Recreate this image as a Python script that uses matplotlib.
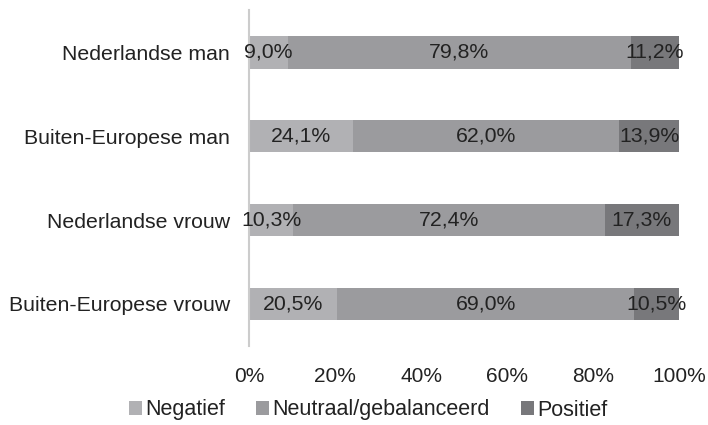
import matplotlib.pyplot as plt
import numpy as np

plt.rcParams['font.family'] = ['Liberation Sans', 'DejaVu Sans']

groups = ['Nederlandse man', 'Buiten-Europese man', 'Nederlandse vrouw', 'Buiten-Europese vrouw']
series = ['Negatief', 'Neutraal/gebalanceerd', 'Positief']
negatief = [9.0, 24.1, 10.3, 20.5]
neutraal = [79.8, 62.0, 72.4, 69.0]
positief = [11.2, 13.9, 17.3, 10.5]
colors = ['#b1b1b4', '#9b9b9e', '#78787b']

fig = plt.figure(figsize=(7.08, 4.25), dpi=100)
ax = fig.add_axes([0.352, 0.186, 0.607, 0.790])

y = np.arange(len(groups))
left = np.zeros(len(groups))
for name, vals, col in zip(series, [negatief, neutraal, positief], colors):
    vals = np.array(vals)
    ax.barh(y, vals, left=left, height=0.39, color=col, label=name)
    for yi, l, v in zip(y, left, vals):
        ax.text(l + v / 2, yi, f'{v:.1f}%'.replace('.', ','), ha='center', va='center',
                fontsize=15.3, color='#222222')
    left += vals

ax.set_xlim(0, 100)
ax.set_ylim(3.5, -0.5)
ax.set_yticks(y)
ax.set_yticklabels(groups, fontsize=15.3, color='#222222')
ax.set_xticks([0, 20, 40, 60, 80, 100])
ax.set_xticklabels(['0%', '20%', '40%', '60%', '80%', '100%'], fontsize=15, color='#222222')
ax.tick_params(length=0)
ax.tick_params(axis='x', pad=15)
ax.tick_params(axis='y', pad=14)
for s in ['top', 'right', 'bottom']:
    ax.spines[s].set_visible(False)
ax.spines['left'].set_color('#cccccc')
ax.spines['left'].set_linewidth(1.5)

fig.legend(loc='center', bbox_to_anchor=(0.52, 1 - 410 / 425), ncol=3, frameon=False,
           fontsize=15.5, handlelength=0.6, handleheight=0.6, handletextpad=0.15,
           columnspacing=1.45, labelcolor='#222222')

fig.savefig('out.png', dpi=100)
